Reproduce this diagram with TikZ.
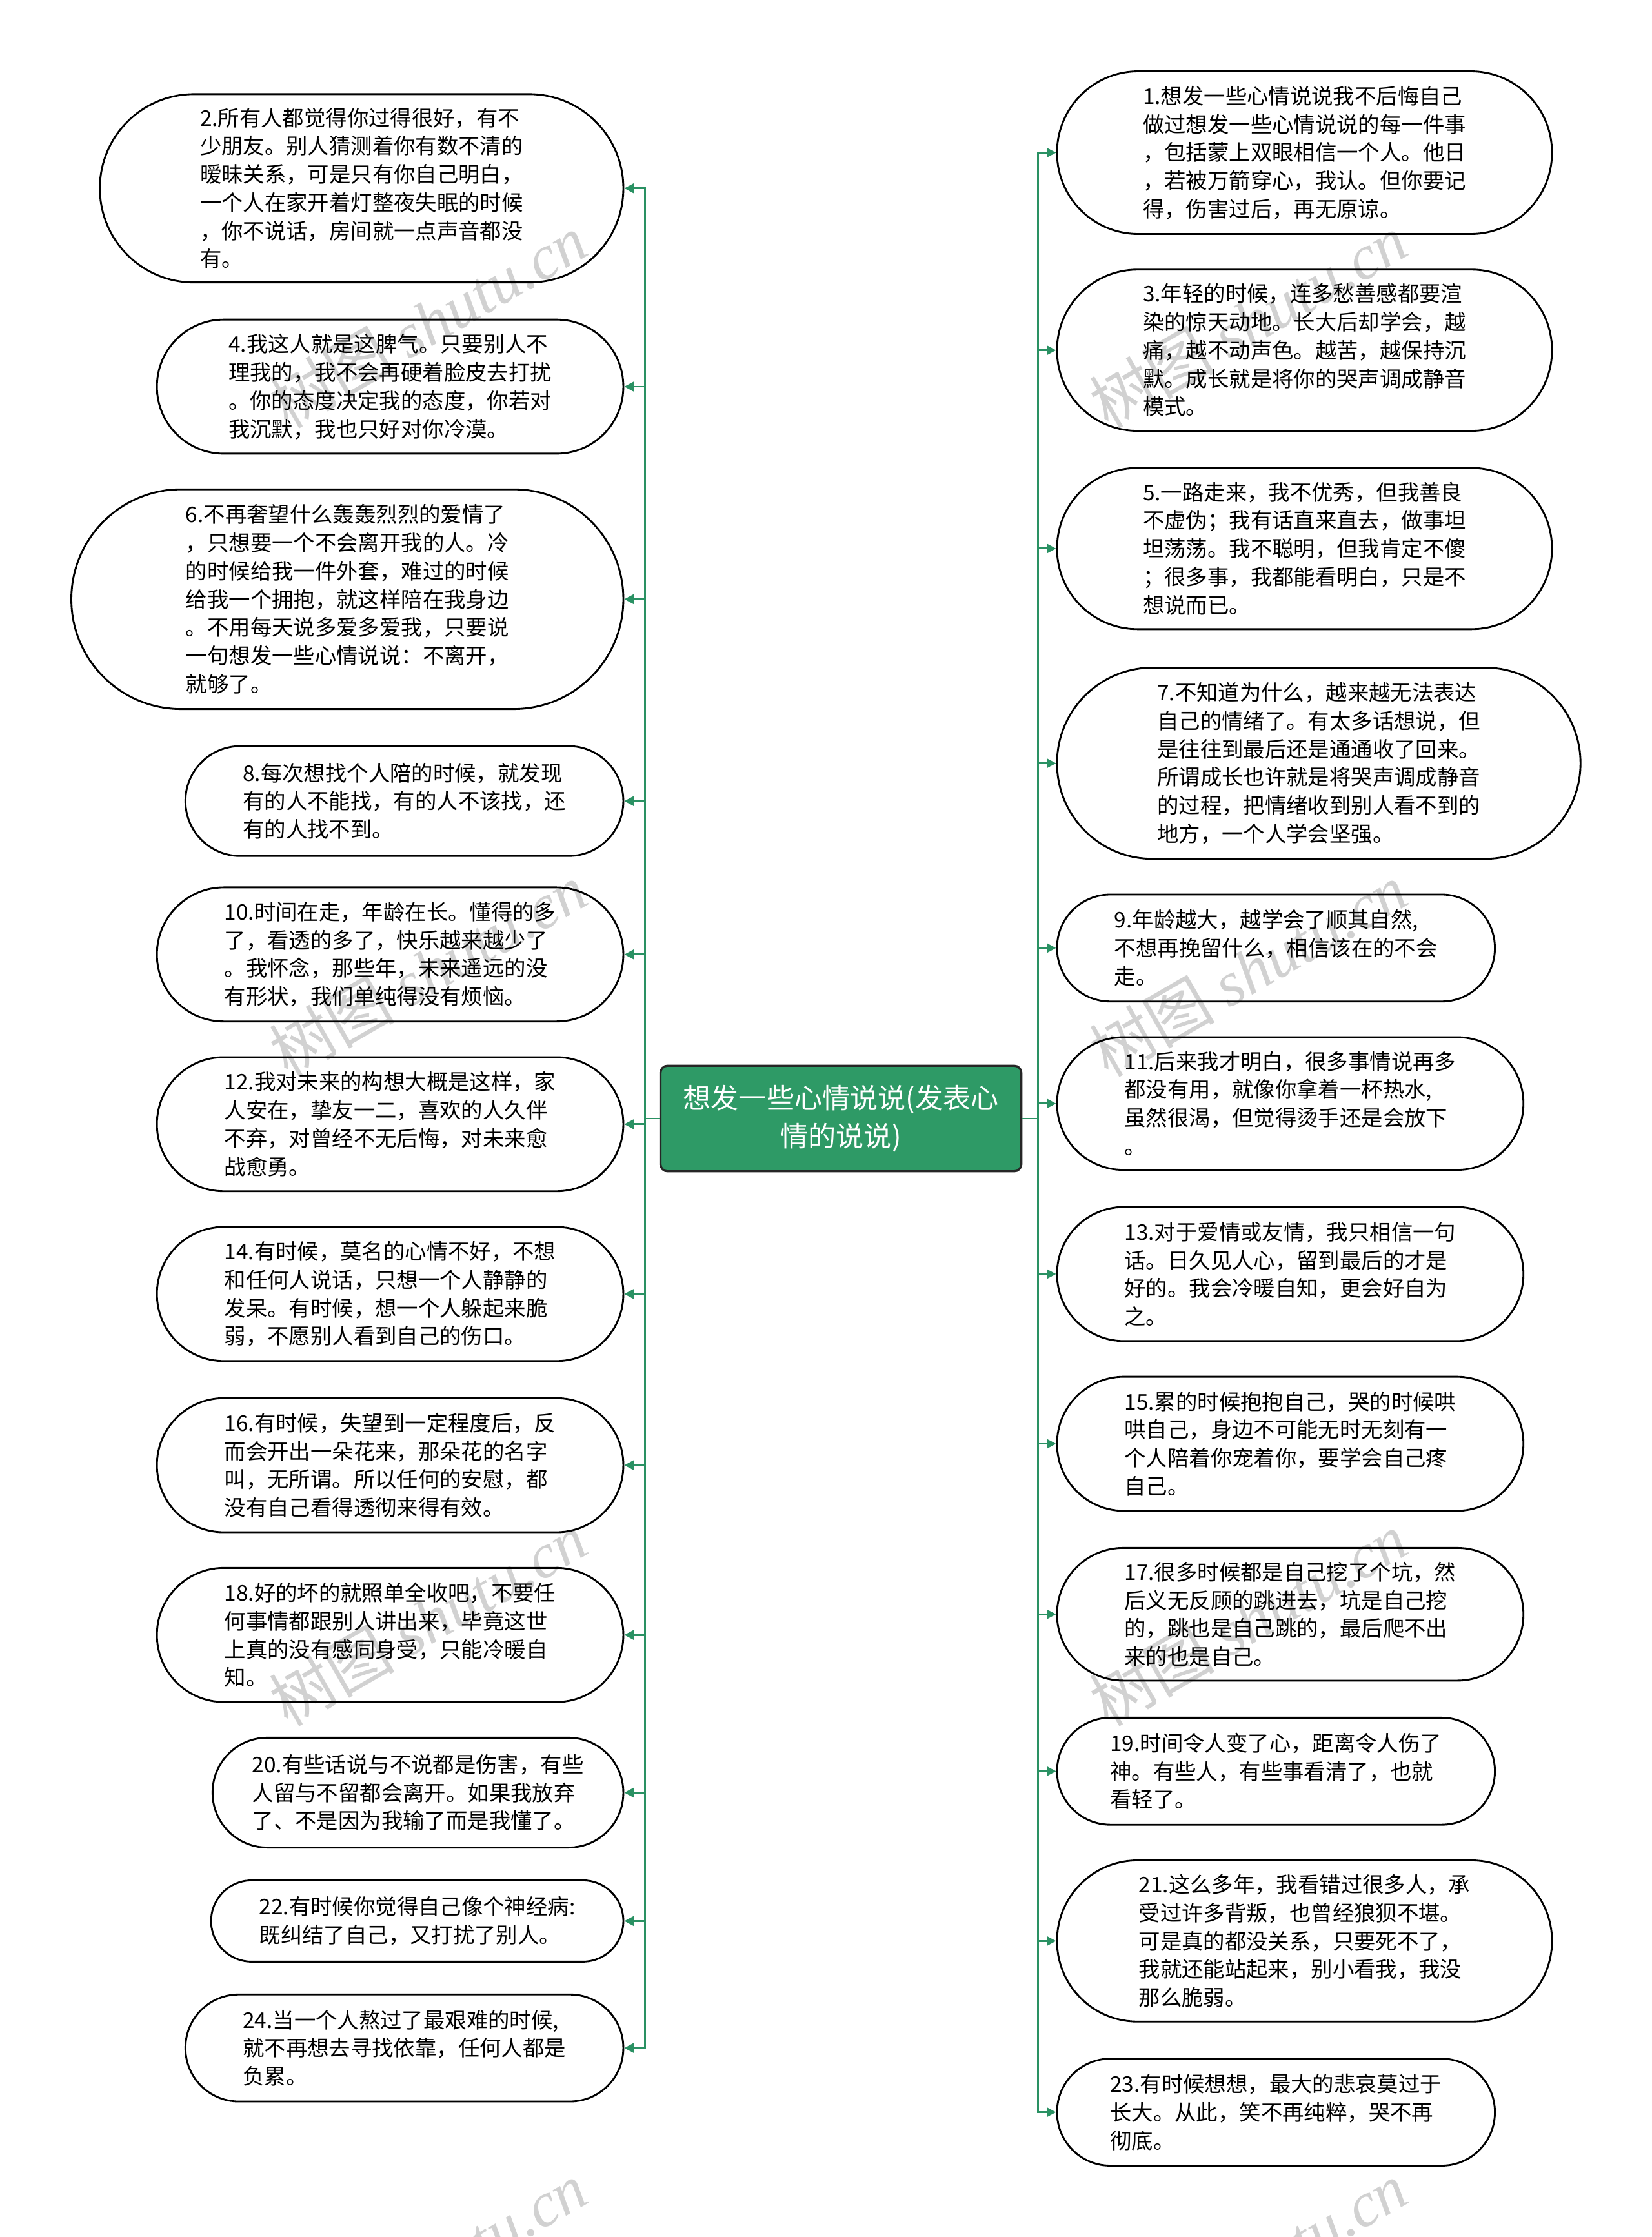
\documentclass[tikz,border=0pt]{standalone}
\usepackage{fontspec}
\setmainfont{Noto Sans CJK SC}
\newfontfamily\cjk{Noto Sans CJK SC}
\newfontfamily\wmserif{Liberation Serif}
\usetikzlibrary{arrows.meta}
\definecolor{rootgreen}{HTML}{2E9A66}
\definecolor{linkgreen}{HTML}{2A9163}
\tikzset{
  bub/.style={draw=black, line width=1.3pt, align=left, inner sep=0pt,
    font=\cjk\fontsize{15.1}{19.8}\selectfont, text=black},
  rootbox/.style={draw=black!85, fill=rootgreen, line width=1.5pt, rounded corners=5pt,
    minimum width=253pt, minimum height=74pt, align=center, text=white,
    font=\cjk\fontsize{19.5}{27}\selectfont},
  conn/.style={draw=linkgreen, line width=1.3pt, -{Triangle[length=6.5pt,width=6.5pt]}},
  wm/.style={text=black!18, font=\fontsize{44}{44}\selectfont, rotate=30, inner sep=0pt}
}
\newcommand\bub[6]{%
  \pgfmathsetmacro\rr{#5/2-0.05}%
  \node[bub, minimum width=#4pt, minimum height=#5pt, rounded corners=\rr pt] (#1) at (#2,#3) {#6};}
\begin{document}
\begin{tikzpicture}[x=1pt,y=-1pt]
\useasboundingbox[fill=white] (0,0) rectangle (1158,1568);
% watermarks
\foreach \wy in {225,680,1135,1590}{
  \node[wm] (wl\wy) at (300,\wy) {\cjk 树图 \wmserif\itshape shutu.cn};
  \node[wm] (wr\wy) at (875,\wy) {\cjk 树图 \wmserif\itshape shutu.cn};
}
% root
\node[rootbox] (c) at (589.5,784) {想发一些心情说说(发表心\\情的说说)};
% left
\bub{n2}{253.5}{132}{367}{132}{2.所有人都觉得你过得很好，有不\\少朋友。别人猜测着你有数不清的\\暧昧关系，可是只有你自己明白，\\一个人在家开着灯整夜失眠的时候\\，你不说话，房间就一点声音都没\\有。}
\bub{n4}{273.5}{271}{327}{94}{4.我这人就是这脾气。只要别人不\\理我的，我不会再硬着脸皮去打扰\\。你的态度决定我的态度，你若对\\我沉默，我也只好对你冷漠。}
\bub{n6}{243.5}{420}{387}{154}{6.不再奢望什么轰轰烈烈的爱情了\\，只想要一个不会离开我的人。冷\\的时候给我一件外套，难过的时候\\给我一个拥抱，就这样陪在我身边\\。不用每天说多爱多爱我，只要说\\一句想发一些心情说说：不离开，\\就够了。}
\bub{n8}{283.5}{561.5}{307}{77}{8.每次想找个人陪的时候，就发现\\有的人不能找，有的人不该找，还\\有的人找不到。}
\bub{n10}{273.5}{669}{327}{94}{10.时间在走，年龄在长。懂得的多\\了，看透的多了，快乐越来越少了\\。我怀念，那些年，未来遥远的没\\有形状，我们单纯得没有烦恼。}
\bub{n12}{273.5}{788}{327}{94}{12.我对未来的构想大概是这样，家\\人安在，挚友一二，喜欢的人久伴\\不弃，对曾经不无后悔，对未来愈\\战愈勇。}
\bub{n14}{273.5}{907}{327}{94}{14.有时候，莫名的心情不好，不想\\和任何人说话，只想一个人静静的\\发呆。有时候，想一个人躲起来脆\\弱，不愿别人看到自己的伤口。}
\bub{n16}{273.5}{1027}{327}{94}{16.有时候，失望到一定程度后，反\\而会开出一朵花来，那朵花的名字\\叫，无所谓。所以任何的安慰，都\\没有自己看得透彻来得有效。}
\bub{n18}{273.5}{1146}{327}{94}{18.好的坏的就照单全收吧，不要任\\何事情都跟别人讲出来，毕竟这世\\上真的没有感同身受，只能冷暖自\\知。}
\bub{n20}{293}{1256.5}{288}{77}{20.有些话说与不说都是伤害，有些\\人留与不留都会离开。如果我放弃\\了、不是因为我输了而是我懂了。}
\bub{n22}{292.5}{1346.5}{289}{57}{22.有时候你觉得自己像个神经病:\\既纠结了自己，又打扰了别人。}
\bub{n24}{283.5}{1435.5}{307}{75}{24.当一个人熬过了最艰难的时候,\\就不再想去寻找依靠，任何人都是\\负累。}
% right
\bub{n1}{914.5}{107}{347}{114}{1.想发一些心情说说我不后悔自己\\做过想发一些心情说说的每一件事\\，包括蒙上双眼相信一个人。他日\\，若被万箭穿心，我认。但你要记\\得，伤害过后，再无原谅。}
\bub{n3}{914.5}{245.5}{347}{113}{3.年轻的时候，连多愁善感都要渲\\染的惊天动地。长大后却学会，越\\痛，越不动声色。越苦，越保持沉\\默。成长就是将你的哭声调成静音\\模式。}
\bub{n5}{914.5}{384.5}{347}{113}{5.一路走来，我不优秀，但我善良\\不虚伪；我有话直来直去，做事坦\\坦荡荡。我不聪明，但我肯定不傻\\；很多事，我都能看明白，只是不\\想说而已。}
\bub{n7}{924.5}{535}{367}{134}{7.不知道为什么，越来越无法表达\\自己的情绪了。有太多话想说，但\\是往往到最后还是通通收了回来。\\所谓成长也许就是将哭声调成静音\\的过程，把情绪收到别人看不到的\\地方，一个人学会坚强。}
\bub{n9}{894.5}{664.5}{307}{75}{9.年龄越大，越学会了顺其自然,\\不想再挽留什么，相信该在的不会\\走。}
\bub{n11}{904.5}{773.5}{327}{93}{11.后来我才明白，很多事情说再多\\都没有用，就像你拿着一杯热水,\\虽然很渴，但觉得烫手还是会放下\\。}
\bub{n13}{904.5}{893}{327}{94}{13.对于爱情或友情，我只相信一句\\话。日久见人心，留到最后的才是\\好的。我会冷暖自知，更会好自为\\之。}
\bub{n15}{904.5}{1012}{327}{94}{15.累的时候抱抱自己，哭的时候哄\\哄自己，身边不可能无时无刻有一\\个人陪着你宠着你，要学会自己疼\\自己。}
\bub{n17}{904.5}{1131.5}{327}{93}{17.很多时候都是自己挖了个坑，然\\后义无反顾的跳进去，坑是自己挖\\的，跳也是自己跳的，最后爬不出\\来的也是自己。}
\bub{n19}{894.5}{1241.5}{307}{75}{19.时间令人变了心，距离令人伤了\\神。有些人，有些事看清了，也就\\看轻了。}
\bub{n21}{914.5}{1360.5}{347}{113}{21.这么多年，我看错过很多人，承\\受过许多背叛，也曾经狼狈不堪。\\可是真的都没关系，只要死不了，\\我就还能站起来，别小看我，我没\\那么脆弱。}
\bub{n23}{894.5}{1480.5}{307}{75}{23.有时候想想，最大的悲哀莫过于\\长大。从此，笑不再纯粹，哭不再\\彻底。}
% connectors
\foreach \n in {n2,n4,n6,n8,n10,n12,n14,n16,n18,n20,n22,n24}
  \draw[conn] (c.west) -- ++(-10,0) |- (\n.east);
\foreach \n in {n1,n3,n5,n7,n9,n11,n13,n15,n17,n19,n21,n23}
  \draw[conn] (c.east) -- ++(11,0) |- (\n.west);
\end{tikzpicture}
\end{document}
